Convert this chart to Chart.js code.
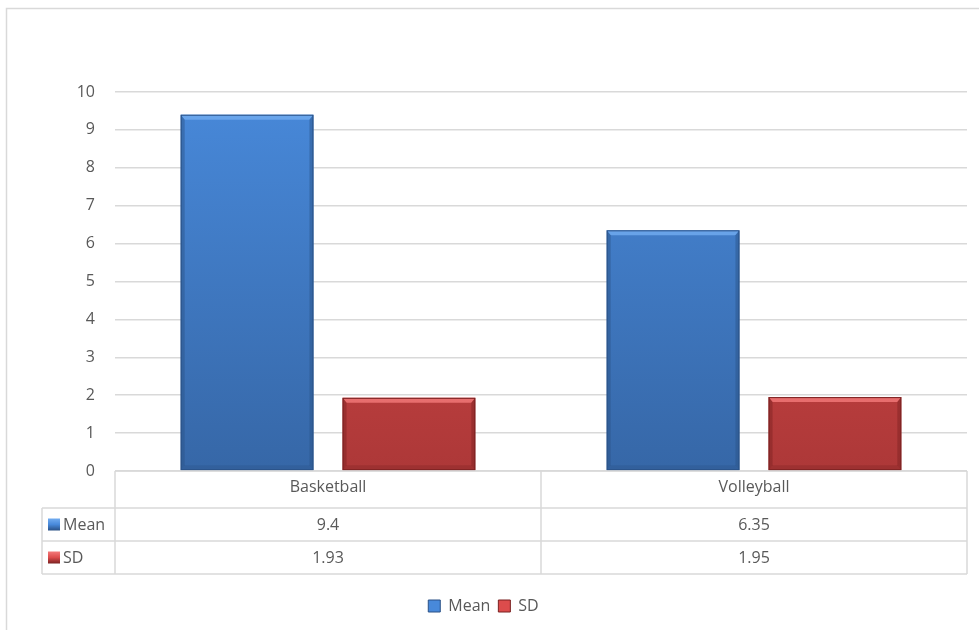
<!DOCTYPE html>
<html>
<head>
<meta charset="utf-8">
<script src="https://cdn.jsdelivr.net/npm/chart.js@4.4.1/dist/chart.umd.min.js"></script>
<style>
  html, body { margin: 0; padding: 0; background: #fff; }
  #wrap { position: relative; width: 979px; height: 630px; }
</style>
</head>
<body>
<div id="wrap"><canvas id="chart" width="979" height="630"></canvas></div>
<script>
const categories = ['Basketball', 'Volleyball'];
const meanValues = [9.4, 6.35];
const sdValues = [1.93, 1.95];
const yTicks = [0, 1, 2, 3, 4, 5, 6, 7, 8, 9, 10];

const FONT = '"Open Sans", "Noto Sans", sans-serif';
const TEXT = '#595959';
const LINE = '#d9d9d9';

const palette = {
  Mean: { top: '#4889da', bottom: '#3667a7', hi: '#72acf0', edge: '#2a5186' },
  SD: { top: '#dc4c4c', bottom: '#ad3838', hi: '#f47a7a', edge: '#7a2121' }
};

function barFill(name) {
  return function (ctx) {
    const chart = ctx.chart;
    const area = chart.chartArea;
    if (!area) return palette[name].top;
    const el = ctx.element;
    const top = el && isFinite(el.y) ? el.y : area.top;
    const g = chart.ctx.createLinearGradient(0, top, 0, area.bottom);
    g.addColorStop(0, palette[name].top);
    g.addColorStop(1, palette[name].bottom);
    return g;
  };
}

// outer frame of the chart object
const framePlugin = {
  id: 'frame',
  beforeDraw(chart) {
    const c = chart.ctx;
    c.save();
    c.strokeStyle = LINE;
    c.lineWidth = 1.5;
    c.strokeRect(6.5, 8.5, 1000, 700);
    c.restore();
  }
};

// simple bevel on each bar, drawn over the library's own bar rectangles
const bevelPlugin = {
  id: 'bevel',
  afterDatasetsDraw(chart) {
    const c = chart.ctx;
    chart.data.datasets.forEach((ds, i) => {
      const p = palette[ds.label];
      chart.getDatasetMeta(i).data.forEach(bar => {
        const l = bar.x - bar.width / 2, r = bar.x + bar.width / 2;
        const t = bar.y, b = bar.base;
        const e = 4;
        c.save();
        c.fillStyle = p.hi;
        c.globalAlpha = 0.8;
        c.beginPath();
        c.moveTo(l, t); c.lineTo(r, t); c.lineTo(r - e, t + 5); c.lineTo(l + e, t + 5);
        c.closePath(); c.fill();
        c.globalAlpha = 0.45;
        c.fillStyle = p.edge;
        c.beginPath();
        c.moveTo(l, t); c.lineTo(l + e, t + 5); c.lineTo(l + e, b - 5); c.lineTo(l, b);
        c.closePath(); c.fill();
        c.beginPath();
        c.moveTo(r, t); c.lineTo(r - e, t + 5); c.lineTo(r - e, b - 5); c.lineTo(r, b);
        c.closePath(); c.fill();
        c.globalAlpha = 0.3;
        c.beginPath();
        c.moveTo(l, b); c.lineTo(l + e, b - 5); c.lineTo(r - e, b - 5); c.lineTo(r, b);
        c.closePath(); c.fill();
        c.globalAlpha = 1;
        c.strokeStyle = p.edge;
        c.lineWidth = 1;
        c.strokeRect(l + 0.5, t + 0.5, bar.width - 1, b - t - 1);
        c.restore();
      });
    });
  }
};

// data table under the plot area
const tablePlugin = {
  id: 'dataTable',
  afterDraw(chart) {
    const c = chart.ctx;
    const x = chart.scales.x;
    const area = chart.chartArea;
    const rowH = 33;
    const catTop = area.bottom, catBottom = area.bottom + 37;
    const r1 = catBottom, r2 = catBottom + rowH, r3 = catBottom + rowH * 2;
    const headLeft = 42;
    const splits = [];
    for (let i = 1; i < categories.length; i++) {
      splits.push((x.getPixelForValue(i - 1) + x.getPixelForValue(i)) / 2);
    }
    c.save();
    c.strokeStyle = LINE;
    c.lineWidth = 1.5;
    c.beginPath();
    c.moveTo(area.left, catTop); c.lineTo(area.right, catTop);
    c.moveTo(headLeft, r1); c.lineTo(area.right, r1);
    c.moveTo(headLeft, r2); c.lineTo(area.right, r2);
    c.moveTo(headLeft, r3); c.lineTo(area.right, r3);
    c.moveTo(area.left, catTop); c.lineTo(area.left, r3);
    c.moveTo(area.right, catTop); c.lineTo(area.right, r3);
    c.moveTo(headLeft, r1); c.lineTo(headLeft, r3);
    splits.forEach(s => { c.moveTo(s, catTop); c.lineTo(s, r3); });
    c.stroke();

    c.font = '16px ' + FONT;
    c.fillStyle = TEXT;
    c.textBaseline = 'middle';
    const rows = [['Mean', meanValues], ['SD', sdValues]];
    rows.forEach((row, ri) => {
      const cy = r1 + rowH * ri + rowH / 2;
      const p = palette[row[0]];
      const g = c.createLinearGradient(0, cy - 6, 0, cy + 6);
      g.addColorStop(0, p.hi);
      g.addColorStop(0.5, p.top);
      g.addColorStop(1, p.edge);
      c.fillStyle = g;
      c.fillRect(headLeft + 6, cy - 6, 12, 12);
      c.fillStyle = TEXT;
      c.textAlign = 'left';
      c.fillText(row[0], headLeft + 21, cy + 1);
      c.textAlign = 'center';
      row[1].forEach((v, i) => {
        c.fillText(String(v), x.getPixelForValue(i), cy + 1);
      });
    });
    c.restore();
  }
};

new Chart(document.getElementById('chart'), {
  type: 'bar',
  data: {
    labels: categories,
    datasets: [
      { label: 'Mean', data: meanValues, backgroundColor: barFill('Mean'),
        categoryPercentage: 0.76, barPercentage: 0.82 },
      { label: 'SD', data: sdValues, backgroundColor: barFill('SD'),
        categoryPercentage: 0.76, barPercentage: 0.82 }
    ]
  },
  options: {
    responsive: false,
    animation: false,
    devicePixelRatio: 1,
    layout: { padding: { left: 0, right: 12, top: 92, bottom: 6 } },
    scales: {
      y: {
        min: 0, max: 10,
        afterBuildTicks(axis) { axis.ticks = yTicks.map(v => ({ value: v })); },
        afterFit(axis) { axis.width = 115; },
        border: { display: false },
        grid: { color: LINE, lineWidth: 1.5, drawTicks: false },
        ticks: { color: TEXT, padding: 20, font: { family: FONT, size: 16 } }
      },
      x: {
        afterFit(axis) { axis.height = 119; },
        border: { display: false },
        grid: { display: false, drawTicks: false },
        ticks: { color: TEXT, padding: 7, font: { family: FONT, size: 16 } }
      }
    },
    plugins: {
      legend: {
        position: 'bottom',
        labels: {
          color: TEXT,
          boxWidth: 12, boxHeight: 12,
          padding: 8,
          font: { family: FONT, size: 16 },
          generateLabels(chart) {
            return chart.data.datasets.map((ds, i) => ({
              text: ds.label,
              fillStyle: palette[ds.label].top,
              strokeStyle: palette[ds.label].edge,
              lineWidth: 1,
              fontColor: TEXT,
              datasetIndex: i
            }));
          }
        }
      },
      tooltip: { enabled: false }
    }
  },
  plugins: [framePlugin, bevelPlugin, tablePlugin]
});
</script>
</body>
</html>
